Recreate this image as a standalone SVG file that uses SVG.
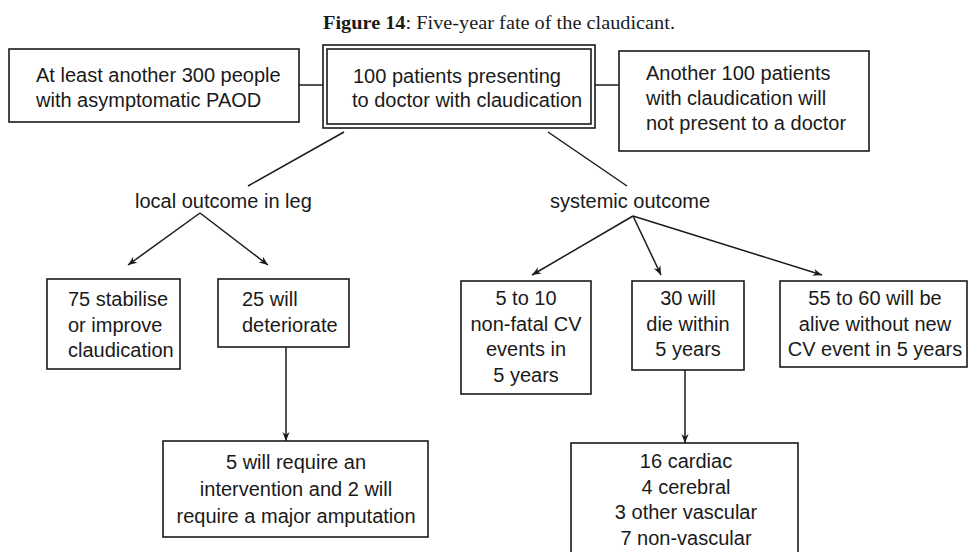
<svg xmlns="http://www.w3.org/2000/svg" width="972" height="552" viewBox="0 0 972 552">
<defs>
<style>
.box{fill:#fff;stroke:#1a1a1a;stroke-width:1.6}
.t{font-family:"Liberation Sans",Arial,sans-serif;font-size:20px;fill:#1a1a1a}
.c{text-anchor:middle}
.ln{stroke:#1a1a1a;stroke-width:1.5;fill:none}
.title{font-family:"Liberation Serif","Times New Roman",serif;font-size:19px;fill:#1a1a1a}
</style>
<marker id="ah" viewBox="0 0 10 10" refX="10" refY="5" markerWidth="9" markerHeight="9" markerUnits="userSpaceOnUse" orient="auto">
<path d="M0,1 L10,5 L0,9 L3,5 z" fill="#1a1a1a"/>
</marker>
</defs>
<rect width="972" height="552" fill="#fff"/>
<text class="title" x="323" y="29" textLength="352" lengthAdjust="spacingAndGlyphs"><tspan font-weight="bold">Figure 14</tspan>: Five-year fate of the claudicant.</text>

<g id="connectors">
<line class="ln" x1="299" y1="85" x2="323" y2="85"/>
<line class="ln" x1="595" y1="85" x2="619" y2="85"/>
<line class="ln" x1="344" y1="132" x2="248" y2="186"/>
<line class="ln" x1="548" y1="132" x2="627" y2="186"/>
<line class="ln" x1="200" y1="213" x2="128" y2="265" marker-end="url(#ah)"/>
<line class="ln" x1="200" y1="213" x2="268" y2="265" marker-end="url(#ah)"/>
<line class="ln" x1="633" y1="216" x2="532" y2="275" marker-end="url(#ah)"/>
<line class="ln" x1="633" y1="216" x2="661" y2="275" marker-end="url(#ah)"/>
<line class="ln" x1="633" y1="216" x2="822" y2="275" marker-end="url(#ah)"/>
<line class="ln" x1="286" y1="347" x2="286" y2="441" marker-end="url(#ah)"/>
<line class="ln" x1="685" y1="370" x2="685" y2="443" marker-end="url(#ah)"/>
</g>

<g id="asymptomatic">
<rect class="box" x="9" y="49" width="290" height="73"/>
<text class="t" x="36" y="82">At least another 300 people</text>
<text class="t" x="36" y="107">with asymptomatic PAOD</text>
</g>

<g id="presenting">
<rect class="box" x="323" y="45" width="272" height="83" stroke-width="1.8"/>
<rect class="box" x="327" y="49" width="264" height="75" stroke-width="1.4"/>
<text class="t" x="353" y="83">100 patients presenting</text>
<text class="t" x="352" y="107">to doctor with claudication</text>
</g>

<g id="notpresent">
<rect class="box" x="619" y="51" width="250" height="100"/>
<text class="t" x="646" y="80">Another 100 patients</text>
<text class="t" x="646" y="105">with claudication will</text>
<text class="t" x="646" y="130">not present to a doctor</text>
</g>

<g id="local">
<text class="t" x="135" y="208">local outcome in leg</text>
</g>

<g id="systemic">
<text class="t" x="550" y="208">systemic outcome</text>
</g>

<g id="stabilise">
<rect class="box" x="47" y="279" width="133" height="90"/>
<text class="t" x="68" y="306">75 stabilise</text>
<text class="t" x="68" y="332">or improve</text>
<text class="t" x="68" y="357">claudication</text>
</g>

<g id="deteriorate">
<rect class="box" x="218" y="279" width="131" height="68"/>
<text class="t" x="242" y="306">25 will</text>
<text class="t" x="242" y="332">deteriorate</text>
</g>

<g id="intervention">
<rect class="box" x="163" y="441" width="265" height="96"/>
<text class="t c" x="296" y="469">5 will require an</text>
<text class="t c" x="296" y="496">intervention and 2 will</text>
<text class="t c" x="296" y="523">require a major amputation</text>
</g>

<g id="nonfatal">
<rect class="box" x="461" y="281" width="130" height="113"/>
<text class="t c" x="526" y="305">5 to 10</text>
<text class="t c" x="526" y="331">non-fatal CV</text>
<text class="t c" x="526" y="356">events in</text>
<text class="t c" x="526" y="382">5 years</text>
</g>

<g id="die">
<rect class="box" x="632" y="281" width="112" height="89"/>
<text class="t c" x="688" y="305">30 will</text>
<text class="t c" x="688" y="331">die within</text>
<text class="t c" x="688" y="356">5 years</text>
</g>

<g id="alive">
<rect class="box" x="780" y="281" width="187" height="86"/>
<text class="t c" x="875" y="305">55 to 60 will be</text>
<text class="t c" x="875" y="331">alive without new</text>
<text class="t c" x="875" y="356">CV event in 5 years</text>
</g>

<g id="causes">
<rect class="box" x="571" y="443" width="227" height="130"/>
<text class="t c" x="686" y="468">16 cardiac</text>
<text class="t c" x="686" y="494">4 cerebral</text>
<text class="t c" x="686" y="519">3 other vascular</text>
<text class="t c" x="686" y="545">7 non-vascular</text>
</g>
</svg>
